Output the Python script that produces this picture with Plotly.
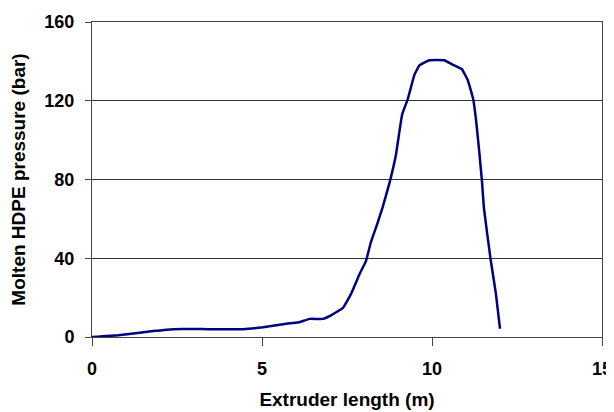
import plotly.graph_objects as go

length_m = [0, 0.77, 1.8, 2.39, 3.4, 4.44, 5.03, 5.81, 6.1, 6.4, 6.79, 7.03, 7.38, 7.62, 7.87,
            8.06, 8.2, 8.4, 8.55, 8.75, 8.94, 9.12, 9.29, 9.48, 9.63, 9.92, 10.36, 10.6,
            10.88, 11.05, 11.21, 11.29, 11.39, 11.47, 11.53, 11.73, 11.88, 12.0]
pressure_bar = [0, 0.9, 3, 4, 4, 4, 5, 7, 7.5, 9.2, 9.2, 11, 14.8, 21.9, 32,
                38.7, 48, 58, 66, 78.3, 92.6, 112.9, 121, 133, 138, 140.6, 140.6, 138.4,
                136, 130.5, 121, 111, 94, 79, 65, 38.7, 21.9, 4.2]

x_ticks = [0, 5, 10, 15]
y_ticks = [0, 40, 80, 120, 160]

fig = go.Figure()
fig.add_trace(go.Scatter(x=length_m, y=pressure_bar, mode="lines",
                         line=dict(color="#000080", width=2.5, shape="spline", smoothing=0.3),
                         showlegend=False))

font_family = "Liberation Sans, Arial, sans-serif"
fig.update_layout(
    width=606, height=404,
    margin=dict(l=84, r=12, t=14, b=75),
    paper_bgcolor="white", plot_bgcolor="white",
    font=dict(family=font_family, size=18, color="black"),
    xaxis=dict(range=[0, 15], tickvals=x_ticks, ticks="outside", ticklen=8, tickwidth=1,
               tickcolor="#444", showline=True, linecolor="#444", linewidth=1, mirror=True,
               showgrid=False, zeroline=False, automargin=False, ticklabelstandoff=7,
               tickfont=dict(size=18, family=font_family, weight="bold"),
               title=dict(text="<b>Extruder length (m)</b>", standoff=15,
                          font=dict(size=19, family=font_family))),
    yaxis=dict(range=[0, 160], tickvals=y_ticks, ticks="outside", ticklen=6, tickwidth=1,
               tickcolor="#444", showline=True, linecolor="#444", linewidth=1, mirror=True,
               showgrid=True, gridcolor="#333", gridwidth=1, zeroline=False, automargin=False,
               ticklabelstandoff=7,
               tickfont=dict(size=18, family=font_family, weight="bold"),
               title=dict(text="<b>Molten HDPE pressure (bar)</b>", standoff=16,
                          font=dict(size=19, family=font_family))),
)

fig.write_html("out.html")
